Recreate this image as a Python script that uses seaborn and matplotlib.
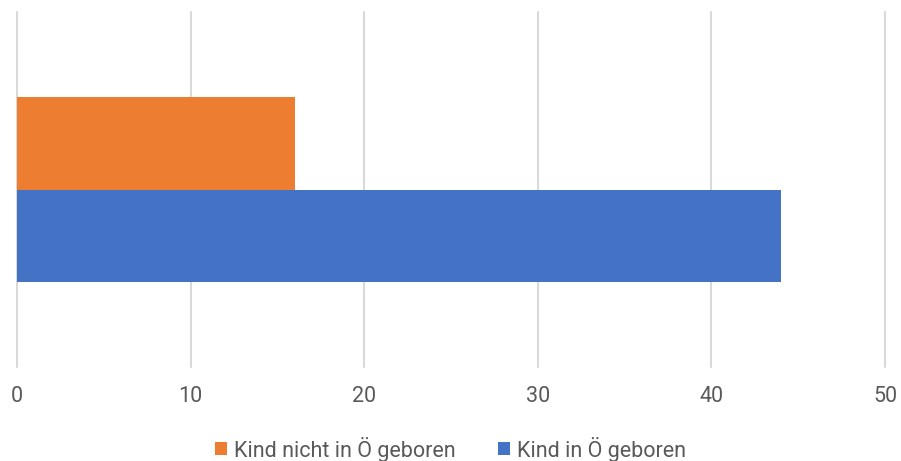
import matplotlib
matplotlib.use("Agg")
import matplotlib.pyplot as plt
from matplotlib.patches import Patch
import pandas as pd
import seaborn as sns

# Data
category = ["Gesamt"]
series = ["Kind nicht in Ö geboren", "Kind in Ö geboren"]
values = [16, 44]
colors = ["#ED7D31", "#4472C4"]
xticks = [0, 10, 20, 30, 40, 50]

df = pd.DataFrame({
    "Kategorie": category * len(series),
    "Gruppe": series,
    "Wert": values,
})

sns.set_theme(style="white")
plt.rcParams["font.family"] = ["Roboto", "DejaVu Sans"]

fig = plt.figure(figsize=(9.01, 4.61), dpi=100)
ax = fig.add_axes([17 / 901, (461 - 367) / 461, (885 - 17) / 901, 355 / 461])

sns.barplot(
    data=df, y="Kategorie", x="Wert", hue="Gruppe", hue_order=series,
    palette=colors, orient="h", width=0.521, saturation=1,
    dodge=True, legend=False, ax=ax, linewidth=0,
)

ax.set_xlim(0, 50)
ax.set_xticks(xticks)
ax.set_xticklabels([str(t) for t in xticks], fontsize=15.5, color="#595959")
ax.set_yticks([])
ax.set_xlabel("")
ax.set_ylabel("")
ax.tick_params(axis="x", length=0, pad=14)
ax.xaxis.grid(True, color="#D9D9D9", linewidth=1.5)
for gl in ax.get_xgridlines():
    gl.set_clip_on(False)
ax.set_axisbelow(True)
for s in ax.spines.values():
    s.set_visible(False)

handles = [Patch(facecolor=c, edgecolor="none") for c in colors]
fig.legend(
    handles, series, loc="center", bbox_to_anchor=(0.5, 1 - 449 / 461),
    ncol=2, frameon=False, fontsize=15.5, labelcolor="#595959",
    handlelength=0.55, handleheight=0.55, handletextpad=0.3, columnspacing=2.0,
)

fig.savefig("out.png", dpi=100)
